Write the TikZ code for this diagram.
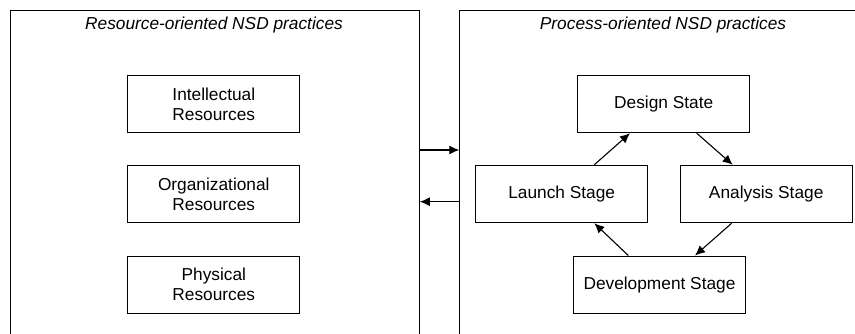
\documentclass[tikz,border=0pt]{standalone}
\usepackage{fontspec}
\setmainfont{Liberation Sans}
\usetikzlibrary{arrows.meta}

\begin{document}
\begin{tikzpicture}[x=1pt,y=-1pt]

	\tikzstyle practice boxes=[draw, line width=1.1pt, anchor=north west, inner sep=0pt];
	\tikzstyle stage boxes=[draw, line width=1.1pt, minimum width=172pt, minimum height=57.3pt, inner sep=0pt, align=center, font=\fontsize{17.3}{20}\selectfont];
	\tikzstyle title text=[font=\fontsize{17.3}{20}\selectfont\itshape];
	\tikzstyle flow lines=[line width=1.1pt, -{Latex[length=10pt,width=9pt]}];

	\path[use as bounding box, clip] (0,0) rectangle (855,334);

	% the two groups of practices
	\node[practice boxes, minimum width=409pt, minimum height=340pt] (resource) at (9.7,9.7) {};
	\node[practice boxes, minimum width=410pt, minimum height=340pt] (process) at (459.3,9.7) {};
	\node[title text] (resourcetitle) at (214,25) {Resource-oriented NSD practices};
	\node[title text] (processtitle) at (663,25) {Process-oriented NSD practices};

		\foreach \name/\y/\text in {intellectual/104/{Intellectual\\Resources},organizational/194/{Organizational\\Resources},physical/284.7/{Physical\\Resources}}
			\node[stage boxes] (\name) at (213.8,\y) {\text};

		\foreach \name/\x/\y/\text in {design/663.7/104/Design State,launch/561.7/194/Launch Stage,analysis/766.2/194/Analysis Stage,development/659.5/284.7/Development Stage}
			\node[stage boxes] (\name) at (\x,\y) {\text};

	\draw[flow lines] (resource.east |- 0,150) -- (process.west |- 0,150);
	\draw[flow lines] (process.west |- 0,201.7) -- (resource.east |- 0,201.7);

		\foreach \from/\dx/\to/\dy in {design.south/33/analysis.north/-33.5,analysis.south/-34.5/development.north/35.5,development.north/-31.2/launch.south/32.6,launch.north/32.6/design.south/-33.7}
			\draw[flow lines] ([xshift=\dx pt]\from) -- ([xshift=\dy pt]\to);

\end{tikzpicture}
\end{document}
